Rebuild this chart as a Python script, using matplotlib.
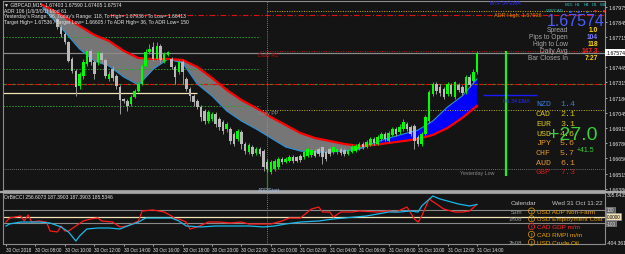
import matplotlib
matplotlib.use('Agg')
import matplotlib.pyplot as plt
import numpy as np
from matplotlib.lines import Line2D

plt.rcParams['font.family'] = ['Liberation Sans', 'DejaVu Sans']

W, H = 625, 255
BG = '#141414'

# ---------------- data ----------------
first_bar = 14  # M15 bars counted from 30 Oct 06:00
opens = [1.67870, 1.67800, 1.67738, 1.67668, 1.67519, 1.67414, 1.67283, 1.67371, 1.67476, 1.67590,
         1.67493, 1.67493, 1.67572, 1.67511, 1.67344, 1.67432, 1.67371, 1.67274, 1.67169, 1.67152,
         1.67125, 1.67187, 1.67239, 1.67300, 1.67458, 1.67581, 1.67625, 1.67519, 1.67633, 1.67502,
         1.67554, 1.67519, 1.67449, 1.67406, 1.67493, 1.67344, 1.67257, 1.67195, 1.67152, 1.67099,
         1.67064, 1.66976, 1.66994, 1.67038, 1.66994, 1.66968, 1.66906, 1.66906, 1.66862, 1.66819,
         1.66880, 1.66775, 1.66705, 1.66749, 1.66696, 1.66731, 1.66714, 1.66617, 1.66530, 1.66556,
         1.66573, 1.66643, 1.66617, 1.66626, 1.66661, 1.66661, 1.66670, 1.66661, 1.66670, 1.66678,
         1.66714, 1.66731, 1.66749, 1.66705, 1.66731, 1.66705, 1.66705, 1.66731, 1.66722, 1.66687,
         1.66705, 1.66714, 1.66731, 1.66775, 1.66749, 1.66766, 1.66819, 1.66775, 1.66819, 1.66862,
         1.66801, 1.66854, 1.66906, 1.66880, 1.66906, 1.66950, 1.66924, 1.66933, 1.66836, 1.66775,
         1.66862, 1.66976, 1.67213, 1.67300, 1.67274, 1.67257, 1.67213, 1.67292, 1.67187, 1.67292,
         1.67274, 1.67230, 1.67362, 1.67327, 1.67406]
highs = [1.67896, 1.67826, 1.67756, 1.67677, 1.67537, 1.67432, 1.67406, 1.67519, 1.67607, 1.67607,
         1.67511, 1.67590, 1.67581, 1.67528, 1.67414, 1.67458, 1.67388, 1.67292, 1.67178, 1.67169,
         1.67204, 1.67257, 1.67318, 1.67476, 1.67607, 1.67651, 1.67668, 1.67668, 1.67651, 1.67581,
         1.67590, 1.67537, 1.67467, 1.67511, 1.67511, 1.67362, 1.67274, 1.67213, 1.67169, 1.67116,
         1.67081, 1.67073, 1.67055, 1.67055, 1.67011, 1.66985, 1.66968, 1.66924, 1.66880, 1.66906,
         1.66897, 1.66792, 1.66784, 1.66766, 1.66749, 1.66749, 1.66731, 1.66643, 1.66635, 1.66643,
         1.66661, 1.66661, 1.66661, 1.66678, 1.66678, 1.66670, 1.66687, 1.66714, 1.66740, 1.66740,
         1.66731, 1.66749, 1.66757, 1.66722, 1.66749, 1.66757, 1.66749, 1.66749, 1.66740, 1.66731,
         1.66766, 1.66775, 1.66792, 1.66792, 1.66810, 1.66836, 1.66836, 1.66854, 1.66880, 1.66880,
         1.66889, 1.66924, 1.66924, 1.66950, 1.66994, 1.66968, 1.66941, 1.66950, 1.66854, 1.66880,
         1.67029, 1.67248, 1.67318, 1.67318, 1.67300, 1.67274, 1.67318, 1.67309, 1.67327, 1.67309,
         1.67292, 1.67379, 1.67388, 1.67432, 1.67590]
lows = [1.67782, 1.67712, 1.67651, 1.67493, 1.67397, 1.67195, 1.67257, 1.67344, 1.67458, 1.67467,
        1.67344, 1.67467, 1.67484, 1.67353, 1.67327, 1.67327, 1.67257, 1.67038, 1.67134, 1.67064,
        1.67108, 1.67178, 1.67230, 1.67292, 1.67449, 1.67563, 1.67502, 1.67502, 1.67484, 1.67484,
        1.67546, 1.67432, 1.67300, 1.67388, 1.67300, 1.67239, 1.67152, 1.67108, 1.67081, 1.66976,
        1.66950, 1.66959, 1.66976, 1.66924, 1.66897, 1.66862, 1.66880, 1.66775, 1.66757, 1.66801,
        1.66731, 1.66687, 1.66687, 1.66670, 1.66678, 1.66670, 1.66538, 1.66530, 1.66512, 1.66538,
        1.66556, 1.66600, 1.66608, 1.66617, 1.66608, 1.66617, 1.66617, 1.66643, 1.66661, 1.66661,
        1.66661, 1.66670, 1.66600, 1.66626, 1.66670, 1.66687, 1.66687, 1.66678, 1.66670, 1.66678,
        1.66696, 1.66705, 1.66722, 1.66731, 1.66740, 1.66757, 1.66766, 1.66766, 1.66801, 1.66801,
        1.66792, 1.66845, 1.66845, 1.66862, 1.66889, 1.66889, 1.66845, 1.66731, 1.66757, 1.66757,
        1.66854, 1.66959, 1.67195, 1.67213, 1.67195, 1.67169, 1.67195, 1.67195, 1.67169, 1.67230,
        1.67204, 1.67213, 1.67274, 1.67309, 1.67388]
closes = [1.67800, 1.67738, 1.67668, 1.67502, 1.67414, 1.67274, 1.67388, 1.67493, 1.67590, 1.67493,
          1.67388, 1.67572, 1.67511, 1.67371, 1.67388, 1.67353, 1.67283, 1.67160, 1.67152, 1.67108,
          1.67187, 1.67239, 1.67300, 1.67458, 1.67581, 1.67607, 1.67519, 1.67633, 1.67511, 1.67563,
          1.67581, 1.67449, 1.67362, 1.67493, 1.67406, 1.67257, 1.67195, 1.67143, 1.67099, 1.67011,
          1.66976, 1.67055, 1.67038, 1.66950, 1.66924, 1.66889, 1.66950, 1.66801, 1.66775, 1.66889,
          1.66775, 1.66714, 1.66766, 1.66687, 1.66731, 1.66687, 1.66573, 1.66556, 1.66617, 1.66626,
          1.66643, 1.66617, 1.66643, 1.66661, 1.66626, 1.66626, 1.66635, 1.66705, 1.66731, 1.66722,
          1.66670, 1.66687, 1.66661, 1.66643, 1.66687, 1.66749, 1.66731, 1.66696, 1.66687, 1.66722,
          1.66749, 1.66757, 1.66775, 1.66749, 1.66792, 1.66819, 1.66784, 1.66836, 1.66862, 1.66819,
          1.66871, 1.66906, 1.66862, 1.66924, 1.66968, 1.66906, 1.66862, 1.66801, 1.66775, 1.66862,
          1.67011, 1.67230, 1.67300, 1.67239, 1.67222, 1.67187, 1.67300, 1.67213, 1.67318, 1.67248,
          1.67222, 1.67362, 1.67292, 1.67406, 1.67574]

ma_bars = [10, 12, 16, 20, 24, 28, 32, 36, 40, 44, 48, 52, 56, 60, 64, 68, 72, 76, 80, 84, 88,
           92, 96, 100, 104, 108, 112, 116, 120, 124, 128]
ema_red = [1.67992, 1.67958, 1.67887, 1.67808, 1.67730, 1.67677, 1.67590, 1.67528, 1.67519, 1.67519,
           1.67511, 1.67449, 1.67353, 1.67248, 1.67160, 1.67090, 1.67011, 1.66941, 1.66871, 1.66827,
           1.66801, 1.66775, 1.66757, 1.66766, 1.66784, 1.66801, 1.66819, 1.66854, 1.66915, 1.67003,
           1.67108]
ema_blue = [1.67966, 1.67896, 1.67756, 1.67607, 1.67502, 1.67458, 1.67362, 1.67292, 1.67432, 1.67519,
            1.67484, 1.67300, 1.67195, 1.67064, 1.66976, 1.66906, 1.66827, 1.66749, 1.66714, 1.66705,
            1.66705, 1.66714, 1.66731, 1.66784, 1.66827, 1.66862, 1.66897, 1.66976, 1.67099, 1.67195,
            1.67344]

cci_red_bars = [0, 1, 4, 5, 6, 7, 9, 11, 12, 14, 15, 16, 17, 19, 21, 23, 25, 26, 29, 31, 33, 36, 37,
                40, 43, 45, 46, 47, 49, 50, 52, 55, 58, 61, 64, 66, 69, 72, 75, 77, 80, 83, 85, 86,
                88, 89, 91, 94, 96, 101, 104, 106, 109, 111, 112, 113, 115, 117, 119, 122, 124, 126,
                128]
cci_red = [-85, -23, 8, -69, 23, -85, -69, -85, -223, -238, -146, -223, -223, -146, -69, -38, -23,
           -69, -85, -161, -146, -69, 85, 100, 69, 8, -38, -38, -85, -192, -161, -85, -85, -100,
           -85, -115, -115, -115, -69, -23, -23, 115, 146, 69, 69, -8, 69, 69, 85, 69, 85, 69, 146,
           -38, -85, 8, 269, 192, 115, 69, 69, 85, 187]
cci_blue_bars = [0, 1, 4, 7, 9, 12, 15, 17, 19, 20, 22, 25, 28, 31, 33, 36, 38, 42, 45, 47, 49,
                 53, 57, 62, 66, 70, 73, 76, 80, 85, 89, 98, 104, 107, 110, 112, 113, 116, 118,
                 121, 123, 126, 128]
cci_blue = [-146, -115, -85, -85, -85, -100, -161, -238, -377, -300, -192, -177, -177, -192, -146,
            -85, -23, -23, -23, -69, -146, -161, -146, -146, -146, -161, -146, -115, -85, -69, -38,
            8, 69, 69, 85, 69, 162, 315, 269, 223, 192, 162, 185]

time_labels = ['30 Oct 2018', '30 Oct 08:00', '30 Oct 10:00', '30 Oct 12:00', '30 Oct 14:00',
               '30 Oct 16:00', '30 Oct 18:00', '30 Oct 20:00', '30 Oct 22:00', '31 Oct 00:00',
               '31 Oct 02:00', '31 Oct 04:00', '31 Oct 06:00', '31 Oct 08:00', '31 Oct 10:00',
               '31 Oct 12:00', '31 Oct 14:00']
label_bars = list(range(0, 129, 8))

price_ticks = [1.67975, 1.67845, 1.67715, 1.67445, 1.67315, 1.67180, 1.67045, 1.66915, 1.66780,
               1.66650, 1.66515, 1.66380]
price_labels = ['%.5f' % p for p in price_ticks]

last_price = 1.67574
adr_high = 1.67936
upper_dashdot = 1.67905
mid_dashdot = 1.67300
prev_levels = [1.67712, 1.67432, 1.67108]
cream_level = 1.67222
daily_r1 = 1.67592
daily_pp = 1.67073
yesterday_low = 1.66556
h1_ema = 1.67204
day_start_bar = 71
range_bar = 136
range_top, range_bottom = 1.67590, 1.66495

strength_names = ['NZD', 'CAD', 'EUR', 'USD', 'JPY', 'CHF', 'AUD', 'GBP']
strength_vals = ['1.4', '2.1', '3.1', '4.6', '5.6', '5.7', '6.1', '7.3']
strength_cols = ['#3a7bd5', '#d4c21c', '#d4c21c', '#d4c21c', '#e0952a', '#e0952a', '#e0952a', '#c81e1e']

info_names = ['Spread', 'Pips to Open', 'High to Low', 'Daily Avg', 'Bar Closes In']
info_vals = ['1.0', '104', '118', '147.3', '7:27']
info_cols = ['#ffd700', '#7b7bff', '#ffd700', '#ff2020', '#ffd700']

# ---------------- figure ----------------
fig = plt.figure(figsize=(W / 100, H / 100), dpi=100, facecolor=BG)


def fx(px):
    return px / W


def fy(py):
    return 1 - py / H


ax = fig.add_axes([fx(3), fy(191), fx(605) - fx(3), fy(2) - fy(191)])
axi = fig.add_axes([fx(3), fy(245), fx(605) - fx(3), fy(194) - fy(245)], sharex=ax)
for a in (ax, axi):
    a.set_facecolor(BG)
    for s in a.spines.values():
        s.set_color('#8c8c8c')
        s.set_linewidth(0.8)

ax.set_xlim(-0.8, 162.8)
ax.set_ylim(1.66372, 1.68027)
axi.set_ylim(-423, 361.5)

# MA band
mb = np.array(ma_bars)
r = np.array(ema_red)
b = np.array(ema_blue)
ax.fill_between(mb, r, b, where=b <= r, interpolate=True, color='#767676', lw=0, zorder=1)
ax.fill_between(mb, r, b, where=b >= r, interpolate=True, color='#0000ff', lw=0, zorder=1)
ax.plot(mb, b, color='#2b8fd8', lw=0.8, zorder=2)
ax.plot(mb, r, color='#ff0000', lw=1.6, zorder=5)

# horizontal levels
xend = 162.8
ax.axhline(last_price, color='#8a8a8a', lw=0.9, zorder=1)
ax.hlines(adr_high, day_start_bar, xend, colors='#d4b000', lw=0.7, linestyles=(0, (1, 1.5)), zorder=1)
ax.hlines(upper_dashdot, 28, xend, colors='#e01010', lw=0.8, linestyles=(0, (5, 2, 1, 2)), zorder=1)
ax.hlines(mid_dashdot, -0.8, xend, colors='#1fa01f', lw=0.8, linestyles=(0, (3, 5)), zorder=1)
ax.hlines(mid_dashdot, -0.8, xend, colors='#e01010', lw=0.8, linestyles=(4, (4, 2, 1, 1)), zorder=1)
ax.hlines(prev_levels, -0.8, 69, colors='#2aa02a', lw=0.7, linestyles=(0, (1.5, 1.5)), zorder=1)
ax.hlines(cream_level, -0.8, 52, colors='#f3e3b5', lw=0.9, zorder=1)
ax.hlines(daily_r1, 69, xend, colors='#c01818', lw=0.7, linestyles=(0, (1, 1.5)), zorder=1)
ax.hlines(daily_pp, 69, xend, colors='#c8b400', lw=0.7, linestyles=(0, (1, 1.5)), zorder=1)
ax.hlines(yesterday_low, -0.8, xend, colors='#8a8a8a', lw=0.6, linestyles=(0, (1, 1.5)), zorder=1)
ax.hlines(h1_ema, 129.6, 144.3, colors='#1a1aff', lw=1.0, zorder=2)

# verticals
for a in (ax, axi):
    a.axvline(day_start_bar, color='#9a9a9a', lw=0.6, ls=(0, (1, 1.5)), zorder=1)
ax.vlines(day_start_bar, 1.66372, 1.66643, colors='#1e8c1e', lw=0.9, zorder=2)
ax.vlines(range_bar, range_bottom, range_top, colors='#22ee22', lw=1.6, zorder=2)

# candles
o = np.array(opens); hh = np.array(highs); ll = np.array(lows); c = np.array(closes)
t = np.arange(first_bar, first_bar + len(o))
up = c >= o
body_col = np.where(up, '#00ff00', '#b9b9b9')
wick_col = np.where(up, '#00e000', '#9a9a9a')
ax.vlines(t, ll, hh, colors=wick_col, lw=0.7, zorder=6)
ax.bar(t, np.maximum(np.abs(c - o), 0.00004), bottom=np.minimum(o, c), width=0.7,
       color=body_col, lw=0, zorder=7)

# price axis
ax.yaxis.tick_right()
ax.set_yticks(price_ticks)
ax.set_yticklabels(price_labels)
ax.tick_params(axis='y', labelsize=3.8, colors='#e6e6e6', length=1.5, pad=1, width=0.5)
ax.tick_params(axis='x', bottom=False, labelbottom=False)
ax.text(1.002, last_price, '%.5f' % last_price, transform=ax.get_yaxis_transform(),
        fontsize=3.8, color='black', va='center', ha='left',
        bbox=dict(boxstyle='square,pad=0.15', fc='white', ec='none'), clip_on=False)

# indicator
axi.plot(cci_red_bars, cci_red, color='#ff1a1a', lw=0.9, zorder=3)
axi.plot(cci_blue_bars, cci_blue, color='#19b8ea', lw=0.9, zorder=3)
axi.axhline(100, color='#8a8a8a', lw=0.8, zorder=1)
axi.axhline(0, color='#f3e3b5', lw=0.9, zorder=1)
axi.axhline(-100, color='#8a8a8a', lw=0.8, zorder=1)
axi.yaxis.tick_right()
axi.set_yticks([])
axi.set_xticks(label_bars)
axi.set_xticklabels(time_labels, ha='left')
axi.tick_params(axis='x', labelsize=3.3, colors='#e6e6e6', length=1.5, pad=1, width=0.5)
tr = axi.get_yaxis_transform()
axi.text(1.003, 346, '305.6435', transform=tr, fontsize=3.6, color='#e6e6e6', va='center')
axi.text(1.003, -404, '-404.3611', transform=tr, fontsize=3.6, color='#e6e6e6', va='center')
for lv, txt, fc in [(100, '100', '#606060'), (0, '0.0000', '#f3e3b5'), (-100, '-100', '#606060')]:
    axi.text(1.003, lv, txt, transform=tr, fontsize=3.3, color='black' if lv == 0 else '#e6e6e6',
             va='center', bbox=dict(boxstyle='square,pad=0.15', fc=fc, ec='#a0a0a0', lw=0.4))

# separator
fig.add_artist(Line2D([0, 1], [fy(192.5), fy(192.5)], color='#a8a8a8', lw=1.6))

# ---------------- texts ----------------
def T(x, y, s, size=4, color='#e6e6e6', ha='left', **kw):
    fig.text(fx(x), fy(y), s, fontsize=size, color=color, ha=ha, va='center', **kw)


T(4, 5, '\u25bc GBPCAD,M15  1.67403 1.67590 1.67405 1.67574', 3.6)
T(4, 11, 'ADR 106 (1/6/3/0/1) Mod 61', 3.6)
T(4, 16.5, "Yesterday's Range: 96, Today's Range: 118, To High= 1.67936 / To Low= 1.66413", 3.6)
T(4, 22.5, 'Target High= 1.67536 / Target Low= 1.66605 / To ADR High= 36, To ADR Low= 150', 3.6)

T(258, 55.5, 'Daily R1', 3.8, '#b01818')
T(258, 114, 'Daily PP', 3.8, '#8a8a8a')
T(258, 190, 'ADRStart', 3.8, '#9fb6d6')
T(460, 173, 'Yesterday Low', 3.8, '#8a8a8a')
T(494, 16, 'ADR High: 1.67936', 4, '#e08a00')
T(503, 101.5, 'H1 34 EMA', 3.8, '#2a2aff')
T(490, 3.5, 'MTF 34 EMA', 3.8, '#2a2aff')

# timeframe arrows
tfs = ['M15', 'H1', 'H4', 'D1', 'W1']
arrows = ['\u25b2', '\u25b2', '\u25b2', '\u25bc', '\u25bc']
acol = ['#2f4fff', '#2f4fff', '#2f4fff', '#ff2020', '#ff2020']
for i, (tf, ar, col) in enumerate(zip(tfs, arrows, acol)):
    T(569 + i * 8.6, 5.5, tf, 3.2, '#2ec4c4', ha='center')
    T(569 + i * 8.6, 11.5, ar, 3.4, col, ha='center')
T(564, 11.5, 'GBPCAD', 3.0, '#2ec4c4', ha='right')

T(576, 21.2, '%.5f' % last_price, 11.5, '#4b5cff', ha='center')
for i, (n, v, col) in enumerate(zip(info_names, info_vals, info_cols)):
    yy = 30 + i * 7.1
    T(568, yy, n, 4.8, '#a8a8a8', ha='right')
    T(598, yy, v, 4.8, col, ha='right', fontweight='bold')

for i, (n, v, col) in enumerate(zip(strength_names, strength_vals, strength_cols)):
    yy = 105 + i * 9.7
    T(536, yy, n, 6, col, family='Liberation Mono')
    T(560, yy, v, 6, col, family='Liberation Mono')
T(573, 135, '+27.0', 14, '#3ad03a', ha='center')
T(586, 150, '+41.5', 5, '#3ad03a', ha='center')

# calendar
T(511, 203.5, 'Calendar', 4.6, '#c8c8c8')
T(603, 203.5, 'Wed 31 Oct 11:22', 4.6, '#c8c8c8', ha='right')
cal_rows = [('53m', 'USD ADP Non-Farm', '#e6a000'), ('1h08', 'USD Employment Cost', '#e6a000'),
            ('', 'CAD GDP m/m', '#ff2a2a'), ('', 'CAD RMPI m/m', '#e6a000'),
            ('2h08', 'USD Crude Oil', '#e6a000')]
for i, (tm, ev, col) in enumerate(cal_rows):
    yy = 212 + i * 7.8
    if tm:
        T(522, yy, tm, 4.3, '#9a9a9a', ha='right')
    T(531.5, yy, '!', 3.4, col, ha='center', fontweight='bold',
      bbox=dict(boxstyle='circle,pad=0.12', fc='none', ec=col, lw=0.5))
    T(537, yy, ev, 4.6, col)

T(4, 197.5, 'OrBitCCI 256.6073 187.3903 187.3903 185.5346', 3.6)

fig.savefig('out.png', dpi=100, facecolor=BG)
